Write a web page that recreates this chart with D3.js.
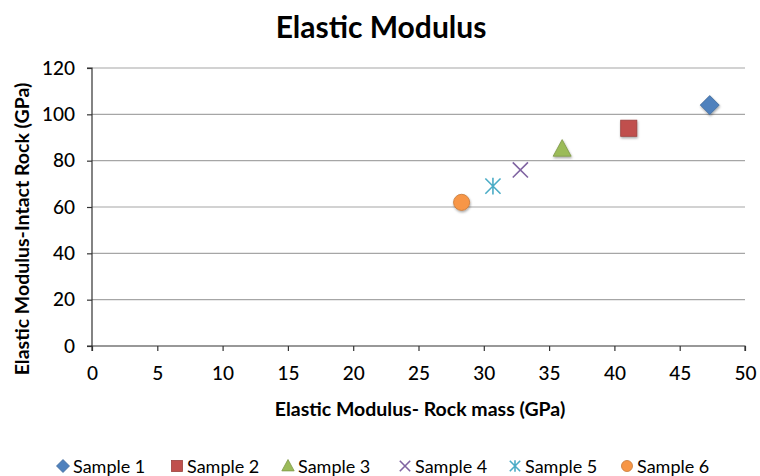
<!DOCTYPE html>
<html>
<head>
<meta charset="utf-8">
<script src="https://cdn.jsdelivr.net/npm/d3@7"></script>
<style>
  html, body { margin: 0; padding: 0; background: #fff; }
  svg { display: block; font-family: Lato, "Open Sans", sans-serif; }
</style>
</head>
<body>
<svg id="chart" width="760" height="476"></svg>
<script>
// Rock mass modulus (x) vs intact rock modulus (y), GPa
const seriesNames = ["Sample 1", "Sample 2", "Sample 3", "Sample 4", "Sample 5", "Sample 6"];
const rockMass    = [47.3, 41.1, 36.0, 32.8, 30.7, 28.3];
const intactRock  = [104, 94, 85, 76, 69, 62];
const markerKinds = ["diamond", "square", "triangle", "cross", "asterisk", "circle"];
const fills       = ["#4f81bd", "#c0504d", "#9bbb59", "#8064a2", "#4bacc6", "#f79646"];
const xTicks = [0, 5, 10, 15, 20, 25, 30, 35, 40, 45, 50];
const yTicks = [0, 20, 40, 60, 80, 100, 120];

const svg = d3.select("#chart");
const plotLeft = 92, plotRight = 745, plotTop = 68, plotBottom = 346;
const FONT = "Lato, 'Open Sans', sans-serif";

const x = d3.scaleLinear().domain([0, 50]).range([plotLeft, plotRight]);
const y = d3.scaleLinear().domain([0, 120]).range([plotBottom, plotTop]);

// soft drop shadow under the markers
const defs = svg.append("defs");
const f = defs.append("filter").attr("id", "shadow").attr("x", "-50%").attr("y", "-50%").attr("width", "200%").attr("height", "200%");
f.append("feDropShadow").attr("dx", 0.6).attr("dy", 1.5).attr("stdDeviation", 1.2).attr("flood-color", "#000").attr("flood-opacity", 0.35);

// title
svg.append("text").attr("x", 381).attr("y", 38).attr("text-anchor", "middle")
  .attr("font-size", 30).attr("font-weight", "bold").attr("fill", "#000").text("Elastic Modulus");

// horizontal gridlines
svg.append("g").selectAll("line").data(yTicks.filter(d => d > 0)).join("line")
  .attr("x1", plotLeft).attr("x2", plotRight).attr("y1", d => y(d)).attr("y2", d => y(d))
  .attr("stroke", "#a6a6a6").attr("stroke-width", 1.2);

// y axis
const yAxis = svg.append("g").attr("transform", `translate(${plotLeft},0)`)
  .call(d3.axisLeft(y).tickValues(yTicks).tickSize(5).tickPadding(12).tickFormat(d3.format("d")));
yAxis.select(".domain").attr("stroke", "#333").attr("stroke-width", 1.2).attr("d", `M-5,${plotTop}H0V${plotBottom}H-5`);
yAxis.selectAll(".tick line").attr("stroke", "#333").attr("stroke-width", 1.2);
yAxis.selectAll("text").attr("font-size", 19).attr("font-weight", 500).attr("fill", "#000").attr("font-family", FONT);

// x axis
const xAxis = svg.append("g").attr("transform", `translate(0,${plotBottom})`)
  .call(d3.axisBottom(x).tickValues(xTicks).tickSize(5).tickPadding(16).tickFormat(d3.format("d")));
xAxis.select(".domain").attr("stroke", "#333").attr("stroke-width", 1.2).attr("d", `M${plotLeft},5V0H${plotRight}V5`);
xAxis.selectAll(".tick line").attr("stroke", "#333").attr("stroke-width", 1.2);
xAxis.selectAll("text").attr("font-size", 19).attr("font-weight", 500).attr("fill", "#000").attr("font-family", FONT);

// axis titles
svg.append("text").attr("x", 420).attr("y", 416).attr("text-anchor", "middle")
  .attr("font-size", 19.5).attr("font-weight", "bold").attr("fill", "#000")
  .text("Elastic Modulus- Rock mass (GPa)");
svg.append("text").attr("transform", `translate(29,229) rotate(-90)`)
  .attr("text-anchor", "middle").attr("font-size", 19.5).attr("font-weight", "bold").attr("fill", "#000")
  .text("Elastic Modulus-Intact Rock (GPa)");

// marker painter: draws one marker of a given kind, centred at (0,0)
function drawMarker(g, kind, color, s) {
  const dark = d3.color(color).darker(0.6);
  if (kind === "diamond") {
    g.append("path").attr("d", `M0,${-s}L${s},0L0,${s}L${-s},0Z`).attr("fill", color).attr("stroke", dark).attr("stroke-width", 0.8);
  } else if (kind === "square") {
    g.append("rect").attr("x", -s * 0.85).attr("y", -s * 0.85).attr("width", s * 1.7).attr("height", s * 1.7)
      .attr("fill", color).attr("stroke", dark).attr("stroke-width", 0.8);
  } else if (kind === "triangle") {
    g.append("path").attr("d", `M0,${-s}L${s * 0.95},${s * 0.75}L${-s * 0.95},${s * 0.75}Z`).attr("fill", color).attr("stroke", dark).attr("stroke-width", 0.8);
  } else if (kind === "cross") {
    const r = s * 0.8;
    g.append("path").attr("d", `M${-r},${-r}L${r},${r}M${-r},${r}L${r},${-r}`).attr("stroke", color).attr("stroke-width", 1.6).attr("fill", "none");
  } else if (kind === "asterisk") {
    const r = s * 0.8;
    g.append("path").attr("d", `M${-r},${-r}L${r},${r}M${-r},${r}L${r},${-r}M0,${-r * 1.1}L0,${r * 1.1}`)
      .attr("stroke", color).attr("stroke-width", 1.6).attr("fill", "none");
  } else {
    g.append("circle").attr("r", s * 0.85).attr("fill", color).attr("stroke", dark).attr("stroke-width", 0.8);
  }
}

// points
const pts = svg.append("g");
seriesNames.forEach((name, i) => {
  const g = pts.append("g").attr("transform", `translate(${x(rockMass[i])},${y(intactRock[i])})`);
  if (markerKinds[i] !== "cross" && markerKinds[i] !== "asterisk") g.attr("filter", "url(#shadow)");
  drawMarker(g, markerKinds[i], fills[i], 9.5);
});

// legend
const legendX = [63, 177, 288, 405, 515, 627];
const legend = svg.append("g");
seriesNames.forEach((name, i) => {
  const g = legend.append("g").attr("transform", `translate(${legendX[i]},466)`);
  drawMarker(g.append("g"), markerKinds[i], fills[i], 6.5);
  g.append("text").attr("x", 10).attr("y", 7).attr("font-size", 18).attr("fill", "#000").text(name);
});
</script>
</body>
</html>
